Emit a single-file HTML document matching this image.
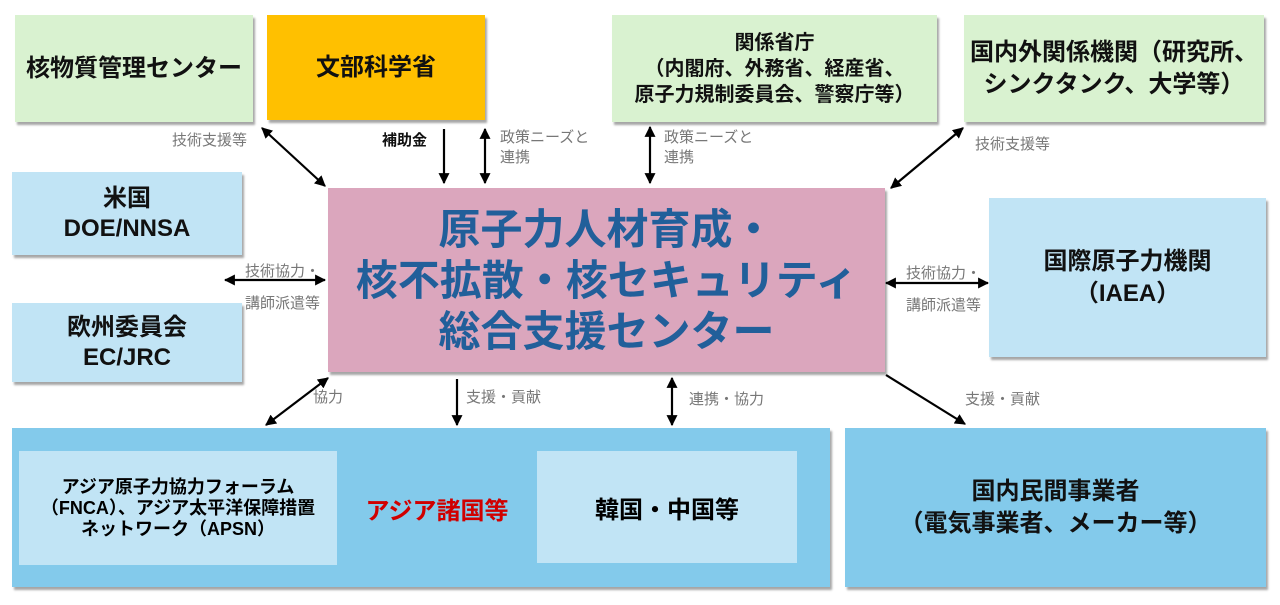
<!DOCTYPE html>
<html><head><meta charset="utf-8"><style>
body{margin:0;width:1280px;height:605px;background:#fff;overflow:hidden;position:relative;font-family:"Liberation Sans","Noto Sans CJK JP",sans-serif}
.b{position:absolute;display:flex;align-items:center;justify-content:center;text-align:center;box-shadow:2px 3px 2px rgba(0,0,0,0.35);color:#111;font-weight:bold;font-size:24px;line-height:1.33}
.g{background:#d9f2d0}.lb{background:#c1e4f5}.mb{background:#83caeb}
.l{position:absolute;font-size:15px;color:#777;line-height:20px;white-space:nowrap}
svg{position:absolute;left:0;top:0}
</style></head><body>
<div class="b g" style="left:15px;top:15px;width:238px;height:107px">核物質管理センター</div>
<div class="b" style="left:267px;top:15px;width:218px;height:105px;background:#ffc000">文部科学省</div>
<div class="b g" style="left:612px;top:15px;width:325px;height:107px;font-size:20px;line-height:26px">関係省庁<br>（内閣府、外務省、経産省、<br>原子力規制委員会、警察庁等）</div>
<div class="b g" style="left:964px;top:15px;width:300px;height:107px;line-height:32px">国内外関係機関（研究所、<br>シンクタンク、大学等）</div>
<div class="b lb" style="left:12px;top:172px;width:230px;height:83px;line-height:30px">米国<br>DOE/NNSA</div>
<div class="b lb" style="left:12px;top:303px;width:230px;height:79px;line-height:30px">欧州委員会<br>EC/JRC</div>
<div class="b" style="left:328px;top:188px;width:557px;height:184px;background:#dba6bd;color:#215f9a;font-size:42px;line-height:51px">原子力人材育成・<br>核不拡散・核セキュリティ<br>総合支援センター</div>
<div class="b lb" style="left:989px;top:198px;width:277px;height:159px;line-height:32px">国際原子力機関<br>（IAEA）</div>
<div class="b mb" style="left:12px;top:428px;width:818px;height:159px"></div>
<div style="position:absolute;left:19px;top:451px;width:318px;height:114px;background:#c1e4f5;display:flex;align-items:center;justify-content:center;text-align:center;font-weight:bold;font-size:18px;line-height:21px">アジア原子力協力フォーラム<br>（FNCA）、アジア太平洋保障措置<br>ネットワーク（APSN）</div>
<div style="position:absolute;left:337px;top:451px;width:200px;height:114px;display:flex;align-items:center;justify-content:center;color:#d00000;font-weight:bold;font-size:24px">アジア諸国等</div>
<div style="position:absolute;left:537px;top:451px;width:260px;height:112px;background:#c1e4f5;display:flex;align-items:center;justify-content:center;font-weight:bold;font-size:24px">韓国・中国等</div>
<div class="b mb" style="left:845px;top:428px;width:421px;height:159px;line-height:32px">国内民間事業者<br>（電気事業者、メーカー等）</div>

<div class="l" style="left:172px;top:131px">技術支援等</div>
<div class="l" style="left:382px;top:131px;color:#111;font-weight:bold">補助金</div>
<div class="l" style="left:500px;top:128px">政策ニーズと<br>連携</div>
<div class="l" style="left:664px;top:128px">政策ニーズと<br>連携</div>
<div class="l" style="left:975px;top:135px">技術支援等</div>
<div class="l" style="left:245px;top:256px;line-height:32px">技術協力・<br>講師派遣等</div>
<div class="l" style="left:906px;top:258px;line-height:32px">技術協力・<br>講師派遣等</div>
<div class="l" style="left:313px;top:388px">協力</div>
<div class="l" style="left:466px;top:388px">支援・貢献</div>
<div class="l" style="left:689px;top:390px">連携・協力</div>
<div class="l" style="left:965px;top:390px">支援・貢献</div>

<svg width="1280" height="605">
<defs><marker id="a" viewBox="0 0 10 10" refX="9" refY="5" markerWidth="5" markerHeight="5" orient="auto-start-reverse"><path d="M0,0L10,5L0,10z" fill="#000"/></marker></defs>
<g stroke="#000" stroke-width="2.2" fill="none">
<line x1="262" y1="128" x2="325" y2="186" marker-start="url(#a)" marker-end="url(#a)"/>
<line x1="444" y1="129" x2="444" y2="183" marker-end="url(#a)"/>
<line x1="485" y1="129" x2="485" y2="183" marker-start="url(#a)" marker-end="url(#a)"/>
<line x1="650" y1="127" x2="650" y2="183" marker-start="url(#a)" marker-end="url(#a)"/>
<line x1="963" y1="128" x2="891" y2="188" marker-start="url(#a)" marker-end="url(#a)"/>
<line x1="225" y1="280" x2="325" y2="280" marker-start="url(#a)" marker-end="url(#a)"/>
<line x1="886" y1="283" x2="988" y2="283" marker-start="url(#a)" marker-end="url(#a)"/>
<line x1="328" y1="378" x2="266" y2="425" marker-start="url(#a)" marker-end="url(#a)"/>
<line x1="457" y1="379" x2="457" y2="425" marker-end="url(#a)"/>
<line x1="672" y1="378" x2="672" y2="425" marker-start="url(#a)" marker-end="url(#a)"/>
<line x1="886" y1="375" x2="965" y2="424" marker-end="url(#a)"/>
</g></svg>
</body></html>
